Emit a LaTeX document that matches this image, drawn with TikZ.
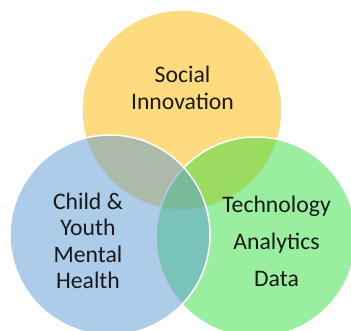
\documentclass[tikz,border=0pt]{standalone}
\usepackage{fontspec}
\setmainfont{Carlito}
\begin{document}
\begin{tikzpicture}[x=1pt,y=-1pt,
  venn/.style={circle, inner sep=0pt, outer sep=0pt, minimum size=200pt,
    draw=white, line width=1.5pt, fill opacity=0.5, draw opacity=1},
  lbl/.style={anchor=base, inner sep=0pt, text=black!90,
    font=\fontsize{23.7}{27}\selectfont}]
\useasboundingbox (0,0) rectangle (351,331);
\definecolor{cyel}{RGB}{255,183,0}
\definecolor{cgrn}{RGB}{51,221,65}
\definecolor{cblu}{RGB}{91,153,213}
\node[venn, fill=cyel] (top) at (182,110) {};
\node[venn, fill=cgrn] (right) at (256,237) {};
\node[venn, fill=cblu] (left) at (110,235) {};
\node[lbl] (t1) at (182.5,82.7) {Social};
\node[lbl] (t2) at (182.5,109.3) {Innovation};
\node[lbl] (l1) at (88,210) {Child \&};
\node[lbl] (l2) at (88,235.7) {Youth};
\node[lbl] (l3) at (88,262.3) {Mental};
\node[lbl] (l4) at (88,289) {Health};
\node[lbl] (r1) at (276.5,212.3) {Technology};
\node[lbl] (r2) at (276.5,250) {Analytics};
\node[lbl] (r3) at (276.5,286.7) {Data};
\end{tikzpicture}
\end{document}
